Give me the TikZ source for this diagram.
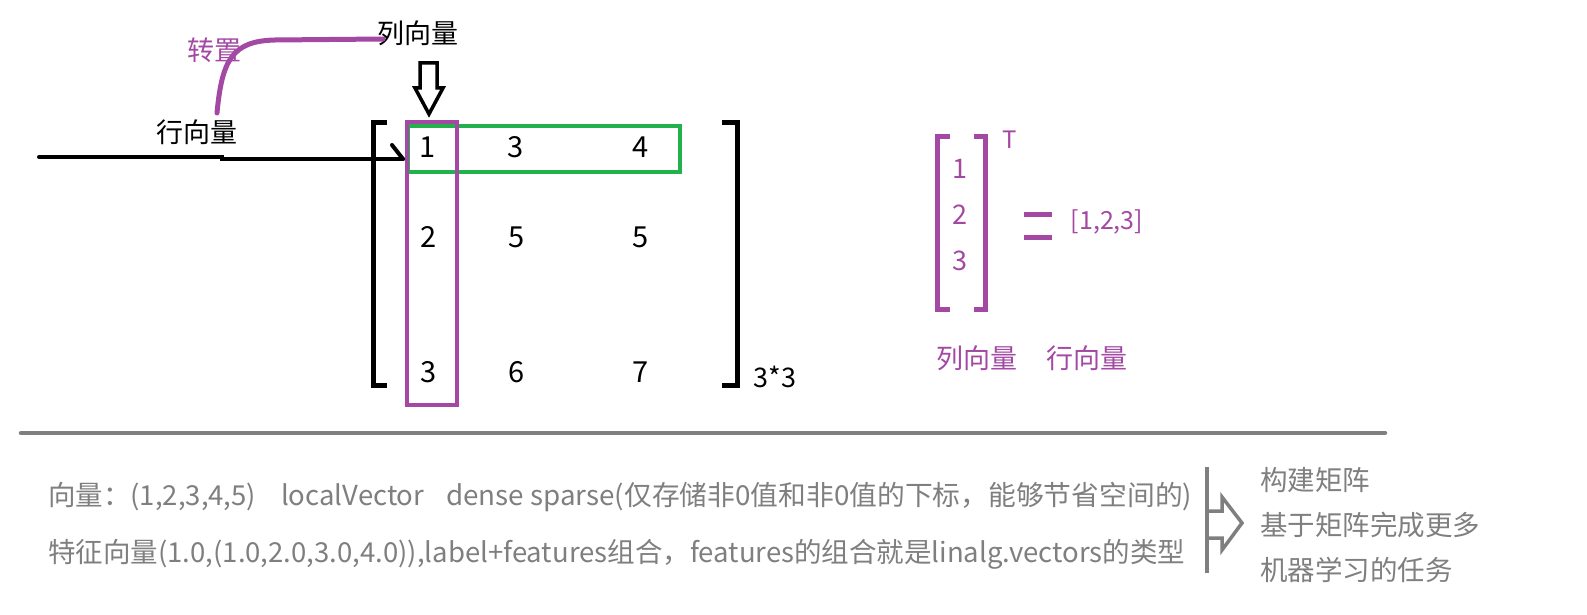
\documentclass[tikz,border=0pt]{standalone}
\usepackage{fontspec}
\usepackage{graphicx}
\setmainfont{Noto Sans CJK SC}
\definecolor{purp}{HTML}{A349A4}
\definecolor{grn}{HTML}{22B14C}
\definecolor{gry}{HTML}{7F7F7F}
\begin{document}
\begin{tikzpicture}[x=1pt,y=-1pt,
  txt/.style={font=\fontsize{27}{30}\selectfont, inner sep=0pt},
  num/.style={font=\fontsize{29}{30}\selectfont, inner sep=0pt},
  pnum/.style={font=\fontsize{27}{30}\selectfont, inner sep=0pt, text=purp},
  btxt/.style={font=\fontsize{27.5}{30}\selectfont, inner sep=0pt, text=gry, anchor=base west},
  bracket/.style={line width=5pt, line cap=butt, line join=miter},
  boxline/.style={line width=4pt},
  hollow/.style={line width=3.5pt, line join=miter}
]
\useasboundingbox (0,0) rectangle (1587,615);

% left labels
\node[txt] (row) at (197,132) {行向量};
\node[txt, text=purp] (tr) at (214,50) {转置};
\node[txt] (col) at (418,33) {列向量};

% transpose curve
\coordinate (cs) at (217,113);
\coordinate (ce) at (383,39);
\draw[purp, line width=5pt, line cap=round] (cs) .. controls (222,60) and (232,41) .. (275,40) -- (ce);

% matrix entries
\node[num] (m11) at (428,147) {1};
\node[num] (m12) at (516,147) {3};
\node[num] (m13) at (641,147) {4};
\node[num] (m21) at (429,237) {2};
\node[num] (m22) at (517,237) {5};
\node[num] (m23) at (641,237) {5};
\node[num] (m31) at (429,372) {3};
\node[num] (m32) at (517,372) {6};
\node[num] (m33) at (641,372) {7};
\node[txt] (dim) at (775,377) {3*3};

% brackets
\draw[bracket] (387,123) -- (373,123) -- (373,385) -- (387,385);
\draw[bracket] (722,123) -- (737,123) -- (737,385) -- (722,385);

% row / column boxes
\draw[grn, boxline] (408,126) rectangle (680,172);
\draw[purp, boxline] (407,122) rectangle (457,405);

% row arrow
\coordinate (ls) at (39,157);
\coordinate (le) at (403,159);
\draw[line width=4pt, line cap=round] (ls) -- (222,157) -- (222,159) -- (le);
\draw[line width=4pt, line cap=round] (392,145) -- (le);

% hollow down arrow from column label
\draw[hollow] (420,63) -- (437,63) -- (437,88) -- (443,88) -- (429,114) -- (415,88) -- (420,88) -- cycle;

% right: transpose example
\draw[purp, bracket] (950,137) -- (937,137) -- (937,309) -- (950,309);
\draw[purp, bracket] (974,137) -- (985,137) -- (985,309) -- (974,309);
\node[pnum] (v1) at (960,169) {1};
\node[pnum] (v2) at (960,215) {2};
\node[pnum] (v3) at (960,261) {3};
\node[pnum, font=\fontsize{24}{26}\selectfont] (vt) at (1010,140) {T};
\draw[purp, line width=5pt] (1024,214) -- (1052,214);
\draw[purp, line width=5pt] (1024,237) -- (1052,237);
\node[pnum, font=\fontsize{25}{27}\selectfont] (rv) at (1107,222) {[1,2,3]};
\node[txt, text=purp] (lc) at (977,358) {列向量};
\node[txt, text=purp] (lr) at (1087,358) {行向量};

% separator
\draw[gry, line width=4.5pt, line cap=round] (21,433) -- (1385,433);

% bottom texts
\node[btxt] (l1) at (48,505) {\makebox[233pt][l]{向量：(1,2,3,4,5)}\makebox[165pt][l]{localVector}\resizebox{746pt}{\height}{dense sparse(仅存储非0值和非0值的下标，能够节省空间的)}};
\node[btxt] (l2) at (48,562) {\resizebox{1137pt}{\height}{特征向量(1.0,(1.0,2.0,3.0,4.0)),label+features组合，features的组合就是linalg.vectors的类型}};

\draw[gry, line width=4pt] (1207,467) -- (1207,573);
\draw[gry, hollow] (1209,511) -- (1222,511) -- (1222,497) -- (1242,523) -- (1222,550) -- (1222,538) -- (1209,538);

\node[btxt] (r1) at (1260,490) {构建矩阵};
\node[btxt] (r2) at (1260,535) {基于矩阵完成更多};
\node[btxt] (r3) at (1260,580) {机器学习的任务};
\end{tikzpicture}
\end{document}
